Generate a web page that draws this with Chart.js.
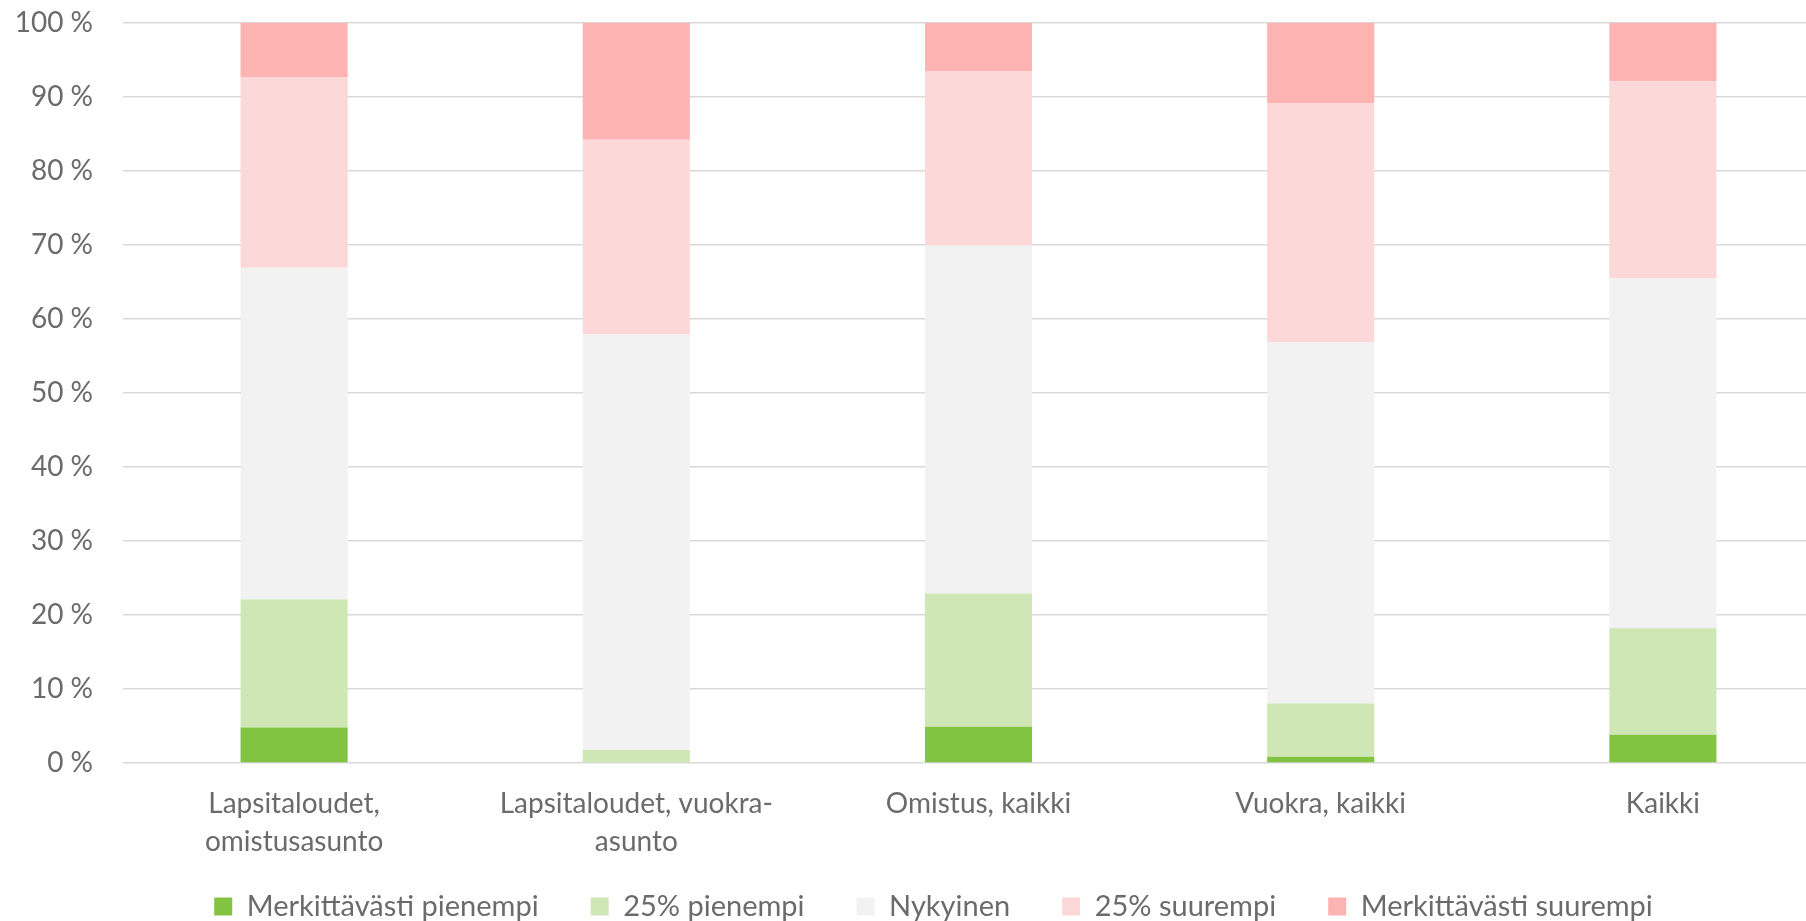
<!DOCTYPE html>
<html>
<head>
<meta charset="utf-8">
<script src="https://cdn.jsdelivr.net/npm/chart.js@4"></script>
<style>
  html, body { margin: 0; padding: 0; background: #fff; overflow: hidden; }
  #wrap { position: absolute; left: 0; top: -24px; width: 1834px; height: 955px; }
</style>
</head>
<body>
<div id="wrap"><canvas id="housingChart"></canvas></div>
<script>
// Kategoriat (x-akseli)
const categories = [
  ['Lapsitaloudet,', 'omistusasunto'],
  ['Lapsitaloudet, vuokra-', 'asunto'],
  'Omistus, kaikki',
  'Vuokra, kaikki',
  'Kaikki'
];

// Sarjat, osuudet prosentteina
const muchSmaller = [4.8, 0, 4.9, 0.85, 3.8];
const smaller25 = [17.3, 1.75, 18.0, 7.2, 14.4];
const current = [44.8, 56.15, 47.0, 48.75, 47.3];
const larger25 = [25.7, 26.3, 23.6, 32.3, 26.6];
const muchLarger = [7.4, 15.8, 6.5, 10.9, 7.9];

const seriesNames = ['Merkittävästi pienempi', '25% pienempi', 'Nykyinen', '25% suurempi', 'Merkittävästi suurempi'];
const seriesColors = ['#82C341', '#CEE7B5', '#F2F2F2', '#FDD8D8', '#FEB3B3'];
const yTicks = [0, 10, 20, 30, 40, 50, 60, 70, 80, 90, 100];

const font = 'Lato, "Open Sans", sans-serif';
const textColor = '#6b6b6b';

// akselien tekstit saavat valua laatikoidensa yli (ei leikkausta)
const unclipLabels = {
  id: 'unclipLabels',
  afterLayout(chart) {
    chart.scales.x.bottom = chart.height;
    chart.scales.y.left = 0;
  }
};

const ctx = document.getElementById('housingChart').getContext('2d');

new Chart(ctx, {
  type: 'bar',
  data: {
    labels: categories,
    datasets: [muchSmaller, smaller25, current, larger25, muchLarger].map((d, i) => ({
      label: seriesNames[i],
      data: d,
      backgroundColor: seriesColors[i],
      borderWidth: 0,
      categoryPercentage: 0.313,
      barPercentage: 1
    }))
  },
  plugins: [unclipLabels],
  options: {
    responsive: true,
    maintainAspectRatio: false,
    animation: false,
    layout: { padding: { left: 33, top: 6, right: 0, bottom: 0 } },
    scales: {
      x: {
        stacked: true,
        afterFit: (s) => { s.height = 77; },
        grid: { display: false },
        border: { display: false },
        ticks: {
          color: textColor,
          font: { family: font, size: 28, lineHeight: 1.36 },
          padding: 14,
          maxRotation: 0
        }
      },
      y: {
        stacked: true,
        min: 0,
        max: 100,
        afterFit: (s) => { s.width = 90; },
        afterBuildTicks: (s) => { s.ticks = yTicks.map(v => ({ value: v })); },
        grid: { color: '#d9d9d9', lineWidth: 1.5, drawTicks: false },
        border: { display: false },
        ticks: {
          color: textColor,
          font: { family: font, size: 28 },
          padding: 30,
          callback: (v) => v + ' %'
        }
      }
    },
    plugins: {
      legend: {
        position: 'bottom',
        labels: {
          color: textColor,
          font: { family: font, size: 29 },
          boxWidth: 18,
          boxHeight: 18,
          padding: 52
        }
      },
      tooltip: { enabled: false }
    }
  }
});
</script>
</body>
</html>
